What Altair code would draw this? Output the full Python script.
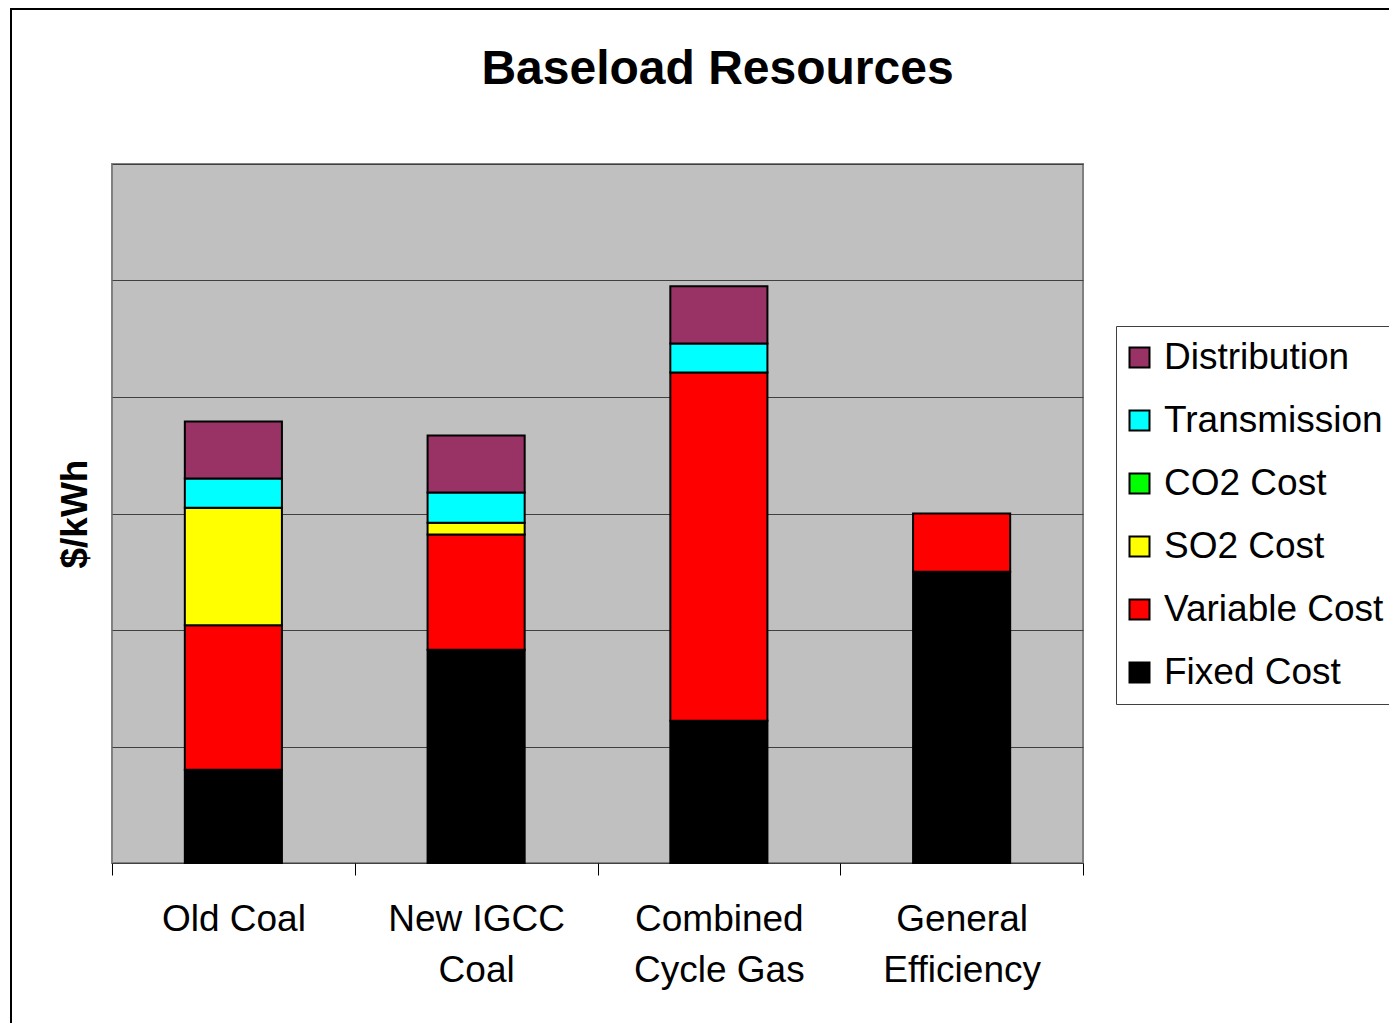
import altair as alt
import pandas as pd

title_text = "Baseload Resources"
categories = ["Old Coal", "New IGCC Coal", "Combined Cycle Gas", "General Efficiency"]
label_lines = {
    "Old Coal": ["Old Coal"],
    "New IGCC Coal": ["New IGCC", "Coal"],
    "Combined Cycle Gas": ["Combined", "Cycle Gas"],
    "General Efficiency": ["General", "Efficiency"],
}

# stacking order bottom -> top
series_names = ["Fixed Cost", "Variable Cost", "CO2 Cost", "SO2 Cost", "Transmission", "Distribution"]
fixed_cost = [0.80, 1.83, 1.22, 2.50]
variable_cost = [1.24, 0.99, 2.99, 0.50]
co2_cost = [0.0, 0.0, 0.0, 0.0]
so2_cost = [1.01, 0.10, 0.0, 0.0]
transmission = [0.25, 0.26, 0.25, 0.0]
distribution = [0.49, 0.49, 0.49, 0.0]
series_values = [fixed_cost, variable_cost, co2_cost, so2_cost, transmission, distribution]

legend_order = ["Distribution", "Transmission", "CO2 Cost", "SO2 Cost", "Variable Cost", "Fixed Cost"]
legend_colors = ["#993366", "#00FFFF", "#00FF00", "#FFFF00", "#FF0000", "#000000"]

rows = []
for si, (name, vals) in enumerate(zip(series_names, series_values)):
    for cat, v in zip(categories, vals):
        rows.append({"category": cat, "series": name, "value": v, "order": si})
df = pd.DataFrame(rows)

label_expr = ""
for cat, lines in label_lines.items():
    arr = "[" + ",".join("'" + l + "'" for l in lines) + "]"
    label_expr += f"datum.label == '{cat}' ? {arr} : "
label_expr += "datum.label"

FONT = "Liberation Sans"

bars = alt.Chart(df).transform_filter("datum.value > 0").mark_bar(
    stroke="black", strokeWidth=2, width=alt.RelativeBandSize(0.4)
).encode(
    x=alt.X(
        "category:N",
        sort=categories,
        scale=alt.Scale(paddingInner=0, paddingOuter=0),
        axis=alt.Axis(
            title=None,
            labelAngle=0,
            labelExpr=label_expr,
            labelFontSize=37,
            labelFont=FONT,
            labelColor="black",
            labelLineHeight=51,
            labelPadding=26,
            labelLimit=500,
            tickBand="extent",
            tickSize=12,
            tickColor="black",
            tickWidth=1,
            domain=False,
            grid=False,
        ),
    ),
    y=alt.Y(
        "value:Q",
        stack="zero",
        scale=alt.Scale(domain=[0, 6], nice=False),
        axis=alt.Axis(
            title="$/kWh",
            titleFontSize=37,
            titleFont=FONT,
            titleFontWeight="bold",
            titleColor="black",
            titlePadding=18,
            labels=False,
            ticks=False,
            domain=False,
            grid=True,
            gridColor="#404040",
            gridWidth=1,
            values=[0, 1, 2, 3, 4, 5, 6],
        ),
    ),
    color=alt.Color(
        "series:N",
        scale=alt.Scale(domain=legend_order, range=legend_colors),
        legend=alt.Legend(
            title=None,
            orient="none",
            legendX=1004,
            legendY=162,
            strokeColor="#404040",
            fillColor="white",
            padding=13,
            symbolType="square",
            symbolSize=400,
            symbolStrokeColor="black",
            symbolStrokeWidth=2,
            symbolOffset=-8,
            labelFontSize=37,
            labelFont=FONT,
            labelColor="black",
            labelOffset=6,
            rowPadding=25,
            labelLimit=500,
        ),
    ),
    order=alt.Order("order:Q", sort="ascending"),
)

frame = alt.Chart(alt.Data(values=[{"a": 1}])).mark_rect(
    fill=None, stroke="black", strokeWidth=2
).encode(
    x=alt.value(-101), x2=alt.value(1400), y=alt.value(-155), y2=alt.value(1000)
)

title = alt.Chart(alt.Data(values=[{"t": title_text}])).mark_text(
    font=FONT, fontSize=48, fontWeight="bold", color="black",
    align="center", baseline="alphabetic"
).encode(
    text="t:N", x=alt.value(605.5), y=alt.value(-80.5)
)

chart = alt.layer(frame, title, bars).properties(
    width=971,
    height=699,
    autosize=alt.AutoSizeParams(type="none"),
    padding={"left": 104, "top": 156, "right": 306, "bottom": 160},
).configure(background="white").configure_view(
    fill="#C0C0C0", stroke="#808080", strokeWidth=2
)

chart.save("out.html", embed_options={"renderer": "svg", "actions": False})
